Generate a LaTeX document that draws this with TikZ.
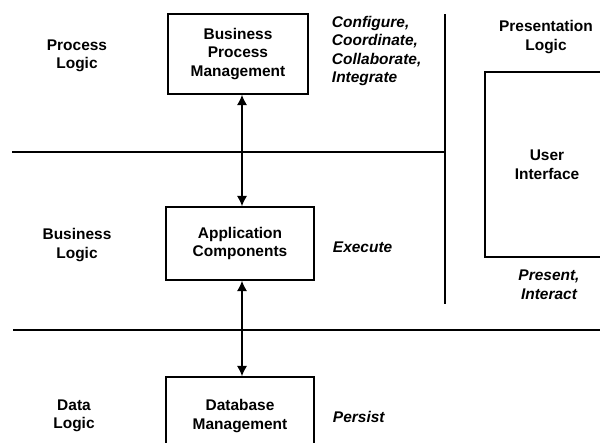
\documentclass[tikz,border=0pt]{standalone}
\usepackage{fontspec}
\setmainfont{Liberation Sans}
\usetikzlibrary{arrows.meta}

\begin{document}
\begin{tikzpicture}[x=0.025cm,y=-0.025cm,
    txt/.style={align=center,font=\fontsize{11}{13.2}\selectfont\bfseries},
    act/.style={align=left,anchor=west,font=\fontsize{11}{13.2}\selectfont\bfseries\itshape},
    box/.style={draw,line width=1pt,txt,inner sep=0pt},
    link/.style={line width=1.4pt,{Latex[length=2.6mm,width=2.6mm]}-{Latex[length=2.6mm,width=2.6mm]}},
    rule/.style={line width=0.8pt}]
    \useasboundingbox (0,0) rectangle (600,442);

    % layer names
    \node[txt] (pl) at (77,56) {Process\\Logic};
    \node[txt] (bl) at (77,245) {Business\\Logic};
    \node[txt] (dl) at (74,416) {Data\\Logic};
    \node[txt] (prl) at (546,37) {Presentation\\Logic};

    % boxes
    \node[box,minimum width=3.5cm,minimum height=2cm] (bpm) at (238,54) {Business\\Process\\Management};
    \node[box,minimum width=3.7cm,minimum height=1.825cm] (app) at (240,243.5) {Application\\Components};
    \node[box,minimum width=3.7cm,minimum height=1.95cm] (db) at (240,416) {Database\\Management};
    \node[box,minimum width=3.1cm,minimum height=4.625cm] (ui) at (547,164.5) {User\\Interface};

    % activities
    \node[act] (cfg) at (327,51) {Configure,\\Coordinate,\\Collaborate,\\Integrate};
    \node[act] (exe) at (328,247) {Execute};
    \node[act] (per) at (328,417) {Persist};
    \node[txt,font=\fontsize{11}{13.2}\selectfont\bfseries\itshape] (pia) at (549,285) {Present,\\Interact};

    % separators
    \coordinate (vt) at (445,14);
    \coordinate (vb) at (445,304);
    \coordinate (h1l) at (12,152);
    \coordinate (h1r) at (445,152);
    \coordinate (h2l) at (13,330);
    \coordinate (h2r) at (600,330);
    \draw[rule] (vt) -- (vb);
    \draw[rule] (h1l) -- (h1r);
    \draw[rule] (h2l) -- (h2r);

    \draw[link] ([xshift=0.1cm]bpm.south) -- ([xshift=0.05cm]app.north);
    \draw[link] ([xshift=0.05cm]app.south) -- ([xshift=0.05cm]db.north);
  \end{tikzpicture}
\end{document}
